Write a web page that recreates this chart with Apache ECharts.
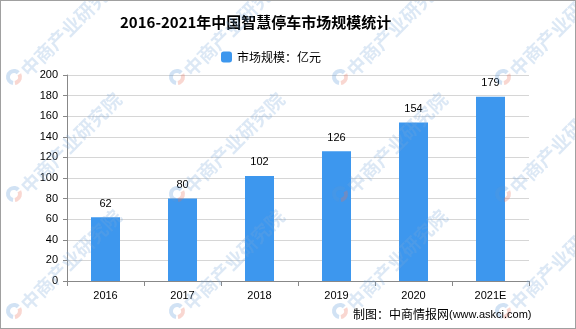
<!DOCTYPE html>
<html>
<head>
<meta charset="utf-8">
<script src="https://cdn.jsdelivr.net/npm/echarts@6/dist/echarts.min.js"></script>
<style>
html,body{margin:0;padding:0;background:#fff;}
#chart{width:576px;height:329px;box-sizing:border-box;border:1px solid #a0a0a0;}
</style>
</head>
<body>
<div id="chart"></div>
<script>
// Smart parking market size, 2016–2021E (unit: 亿元)
const years = ['2016', '2017', '2018', '2019', '2020', '2021E'];
const marketSize = [62, 80, 102, 126, 154, 179];
const yTicks = { min: 0, max: 200, interval: 20 };

const chart = echarts.init(document.getElementById('chart'), null, { renderer: 'canvas' });

// tiled diagonal watermark: small ring logo followed by the institute name
const wmCols = [13, 176, 339, 502];
const wmRows = [76, 193, 310];
const marks = [];
wmRows.forEach(y => wmCols.forEach(x => {
  marks.push({
    type: 'arc', silent: true, z: 100,
    shape: { cx: x, cy: y, r: 6, startAngle: Math.PI * 0.55, endAngle: Math.PI * 1.75 },
    style: { stroke: 'rgba(90,150,215,0.28)', lineWidth: 4, fill: null }
  });
  marks.push({
    type: 'arc', silent: true, z: 100,
    shape: { cx: x, cy: y, r: 6, startAngle: Math.PI * 1.85, endAngle: Math.PI * 2.45 },
    style: { stroke: 'rgba(235,110,90,0.28)', lineWidth: 4, fill: null }
  });
  marks.push({
    type: 'text', x: x + 10, y: y - 4, rotation: Math.PI / 4, silent: true, z: 100,
    style: {
      text: '中商产业研究院', fill: 'rgba(120,165,215,0.26)',
      font: 'bold 19px "Noto Sans CJK SC"', textVerticalAlign: 'middle', textAlign: 'left'
    }
  });
}));

chart.setOption({
  animation: false,
  backgroundColor: '#fff',
  textStyle: { fontFamily: '"Liberation Sans", Arial, sans-serif' },
  title: {
    text: '2016-2021年中国智慧停车市场规模统计',
    left: 114, top: 9,
    textStyle: { fontSize: 15, fontWeight: 'bold', color: '#000', fontFamily: '"Noto Sans CJK SC"' }
  },
  legend: {
    top: 45, left: 215, itemWidth: 11, itemHeight: 11, itemGap: 3,
    textStyle: { fontSize: 12, color: '#000', fontFamily: '"Noto Sans CJK SC"' },
    data: ['市场规模：亿元']
  },
  grid: { left: 66, right: 46, top: 74, bottom: 47, containLabel: false },
  xAxis: {
    type: 'category', data: years,
    axisLine: { lineStyle: { color: '#888' } },
    axisTick: { show: true, length: 5, lineStyle: { color: '#888' } },
    axisLabel: { color: '#000', fontSize: 11, margin: 9 }
  },
  yAxis: {
    type: 'value', min: yTicks.min, max: yTicks.max, interval: yTicks.interval,
    axisLine: { show: true, lineStyle: { color: '#888' } },
    axisTick: { show: true, length: 4, lineStyle: { color: '#888' } },
    axisLabel: { color: '#000', fontSize: 11, margin: 9 },
    splitLine: { lineStyle: { color: '#d6d6d6' } }
  },
  series: [{
    name: '市场规模：亿元', type: 'bar', data: marketSize, barWidth: 29,
    itemStyle: { color: '#3d97ee' },
    label: { show: true, position: 'top', color: '#000', fontSize: 11, distance: 8 }
  }],
  graphic: marks.concat([{
    type: 'text', x: 448, y: 313, silent: true, z: 110,
    style: { text: '制图：中商情报网', fill: '#000', font: '12px "Noto Sans CJK SC"', textAlign: 'right', textVerticalAlign: 'middle' }
  }, {
    type: 'text', x: 448, y: 314, silent: true, z: 110,
    style: { text: '(www.askci.com)', fill: '#000', font: '11px "Liberation Sans"', textAlign: 'left', textVerticalAlign: 'middle' }
  }])
});
</script>
</body>
</html>
